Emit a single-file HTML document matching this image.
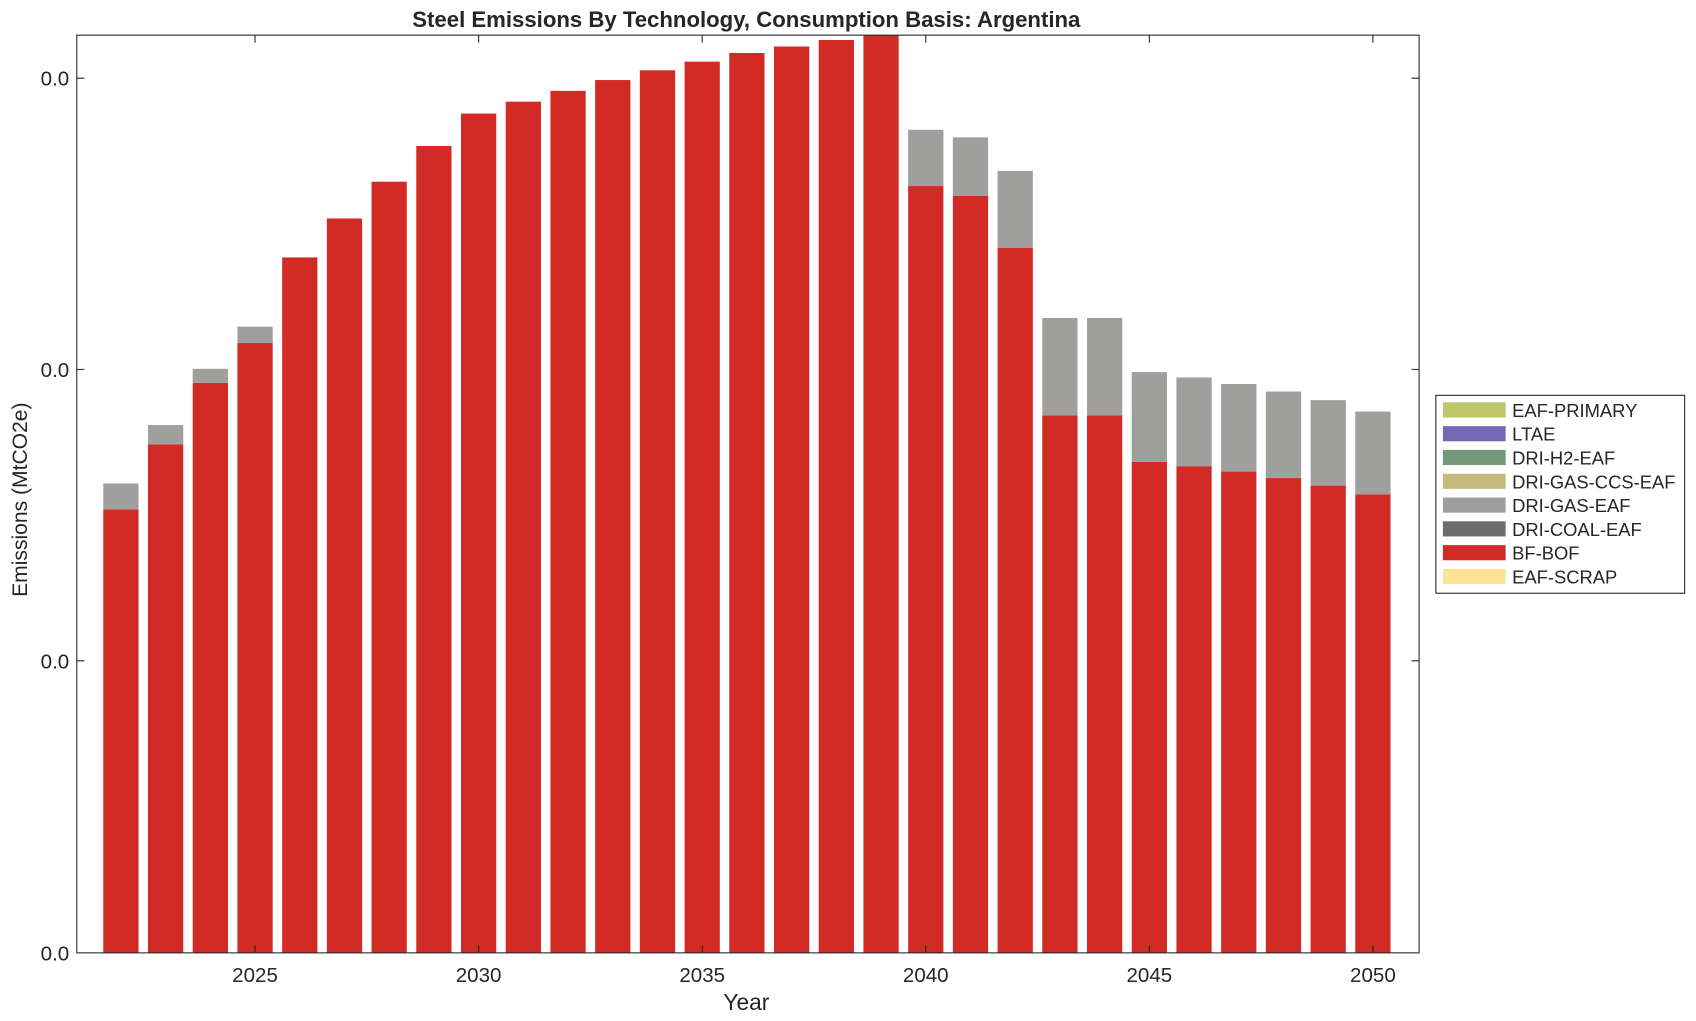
<!DOCTYPE html>
<html><head><meta charset="utf-8"><style>
html,body{margin:0;padding:0;background:#fff;}
svg{display:block;}
text{font-family:"Liberation Sans",sans-serif;fill:#262626;}
</style></head><body>
<svg width="1696" height="1021" viewBox="0 0 1568 944" preserveAspectRatio="none" xmlns="http://www.w3.org/2000/svg">
<rect x="0" y="0" width="1568" height="944" fill="#fff"/>
<g fill="#d22b25">
<rect x="95.48" y="471" width="32.6" height="410"/>
<rect x="136.82" y="411" width="32.6" height="470"/>
<rect x="178.16" y="354" width="32.6" height="527"/>
<rect x="219.50" y="317" width="32.6" height="564"/>
<rect x="260.84" y="238" width="32.6" height="643"/>
<rect x="302.18" y="202" width="32.6" height="679"/>
<rect x="343.52" y="168" width="32.6" height="713"/>
<rect x="384.86" y="135" width="32.6" height="746"/>
<rect x="426.20" y="105" width="32.6" height="776"/>
<rect x="467.54" y="94" width="32.6" height="787"/>
<rect x="508.88" y="84" width="32.6" height="797"/>
<rect x="550.22" y="74" width="32.6" height="807"/>
<rect x="591.56" y="65" width="32.6" height="816"/>
<rect x="632.90" y="57" width="32.6" height="824"/>
<rect x="674.24" y="49" width="32.6" height="832"/>
<rect x="715.58" y="43" width="32.6" height="838"/>
<rect x="756.92" y="37" width="32.6" height="844"/>
<rect x="798.26" y="32.5" width="32.6" height="848.5"/>
<rect x="839.60" y="172" width="32.6" height="709"/>
<rect x="880.94" y="181" width="32.6" height="700"/>
<rect x="922.28" y="229" width="32.6" height="652"/>
<rect x="963.62" y="384" width="32.6" height="497"/>
<rect x="1004.96" y="384" width="32.6" height="497"/>
<rect x="1046.30" y="427" width="32.6" height="454"/>
<rect x="1087.64" y="431" width="32.6" height="450"/>
<rect x="1128.98" y="436" width="32.6" height="445"/>
<rect x="1170.32" y="442" width="32.6" height="439"/>
<rect x="1211.66" y="449" width="32.6" height="432"/>
<rect x="1253.00" y="457" width="32.6" height="424"/>
</g>
<g fill="#9f9f9d">
<rect x="95.48" y="447" width="32.6" height="24"/>
<rect x="136.82" y="393" width="32.6" height="18"/>
<rect x="178.16" y="341" width="32.6" height="13"/>
<rect x="219.50" y="302" width="32.6" height="15"/>
<rect x="839.60" y="120" width="32.6" height="52"/>
<rect x="880.94" y="127" width="32.6" height="54"/>
<rect x="922.28" y="158" width="32.6" height="71"/>
<rect x="963.62" y="294" width="32.6" height="90"/>
<rect x="1004.96" y="294" width="32.6" height="90"/>
<rect x="1046.30" y="344" width="32.6" height="83"/>
<rect x="1087.64" y="349" width="32.6" height="82"/>
<rect x="1128.98" y="355" width="32.6" height="81"/>
<rect x="1170.32" y="362" width="32.6" height="80"/>
<rect x="1211.66" y="370" width="32.6" height="79"/>
<rect x="1253.00" y="380.5" width="32.6" height="76.5"/>
</g>
<g stroke="#262626" stroke-width="1" fill="none">
<rect x="71" y="32.5" width="1241" height="848.5"/>
<path d="M71 72.3h7M71 341.5h7M71 611h7M1312 72.3h-7M1312 341.5h-7M1312 611h-7"/>
<path d="M235.8 881v-7M442.5 881v-7M649.2 881v-7M855.9 881v-7M1062.6 881v-7M1269.3 881v-7M235.8 32.5v7M442.5 32.5v7M649.2 32.5v7M855.9 32.5v7M1062.6 32.5v7M1269.3 32.5v7"/>
</g>
<g font-size="19" text-anchor="end">
<text x="64" y="79">0.0</text><text x="64" y="348.5">0.0</text><text x="64" y="618">0.0</text><text x="64" y="888">0.0</text>
</g>
<g font-size="19" text-anchor="middle">
<text x="235.8" y="908">2025</text><text x="442.5" y="908">2030</text><text x="649.2" y="908">2035</text><text x="855.9" y="908">2040</text><text x="1062.6" y="908">2045</text><text x="1269.3" y="908">2050</text>
<text x="690" y="934" font-size="21">Year</text>
<text x="0" y="0" font-size="19.5" transform="translate(25,462) rotate(-90)">Emissions (MtCO2e)</text>
<text x="690" y="25" font-size="20.5" font-weight="bold" fill="#000">Steel Emissions By Technology, Consumption Basis: Argentina</text>
</g>
<rect x="1327.5" y="365.5" width="230" height="183" fill="#fff" stroke="#262626" stroke-width="1"/>
<g>
<rect x="1334" y="372" width="58" height="14" fill="#bdc56d"/>
<rect x="1334" y="394" width="58" height="14" fill="#7169b5"/>
<rect x="1334" y="416" width="58" height="14" fill="#739779"/>
<rect x="1334" y="438" width="58" height="14" fill="#c4ba7c"/>
<rect x="1334" y="460" width="58" height="14" fill="#9f9f9d"/>
<rect x="1334" y="482" width="58" height="14" fill="#6d6d6d"/>
<rect x="1334" y="504" width="58" height="14" fill="#d22b25"/>
<rect x="1334" y="526" width="58" height="14" fill="#fde394"/>
</g>
<g font-size="17" fill="#000">
<text x="1398" y="385.5">EAF-PRIMARY</text>
<text x="1398" y="407.5">LTAE</text>
<text x="1398" y="429.5">DRI-H2-EAF</text>
<text x="1398" y="451.5">DRI-GAS-CCS-EAF</text>
<text x="1398" y="473.5">DRI-GAS-EAF</text>
<text x="1398" y="495.5">DRI-COAL-EAF</text>
<text x="1398" y="517.5">BF-BOF</text>
<text x="1398" y="539.5">EAF-SCRAP</text>
</g>
</svg>
</body></html>
